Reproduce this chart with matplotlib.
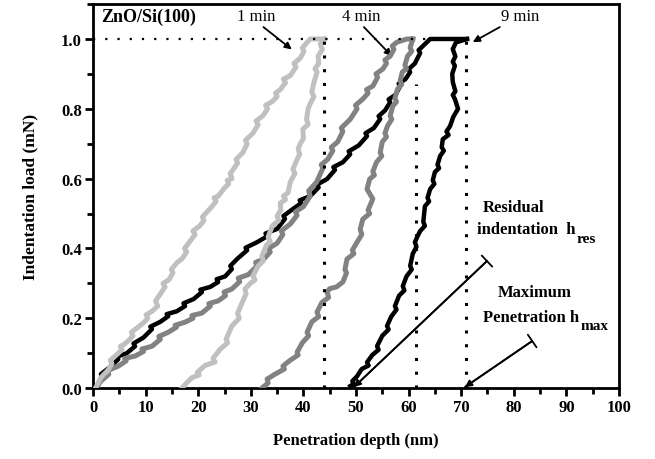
import matplotlib
matplotlib.use('Agg')
import matplotlib.pyplot as plt
from matplotlib.ticker import MultipleLocator, FormatStrFormatter

plt.rcParams['font.family'] = ['Liberation Serif', 'DejaVu Serif']

# 1 min film (light grey): (depth nm, load mN)
load1 = [(0.5, 0.0), (1.5, 0.03), (2.1, 0.04), (2.8, 0.05), (3.6, 0.07), (3.3, 0.08), (4.8, 0.10), (5.5, 0.11),
         (5.2, 0.12), (5.9, 0.125), (7.0, 0.14), (7.6, 0.15), (7.3, 0.16), (8.6, 0.175), (9.8, 0.19),
         (10.4, 0.20), (10.1, 0.21), (11.2, 0.22), (12.3, 0.235), (11.9, 0.25), (12.8, 0.27), (13.7, 0.29),
         (13.3, 0.30), (14.4, 0.31), (15.2, 0.33), (14.9, 0.34), (16.0, 0.36), (16.9, 0.37), (17.8, 0.39),
         (17.4, 0.40), (18.4, 0.42), (19.4, 0.44), (19.0, 0.45), (20.3, 0.465), (21.1, 0.48), (20.8, 0.49),
         (22.6, 0.52), (23.4, 0.535), (23.0, 0.545), (23.8, 0.55), (25.1, 0.575), (25.8, 0.585), (25.5, 0.595),
         (26.4, 0.60), (26.1, 0.615), (26.6, 0.625), (27.5, 0.645), (27.2, 0.655), (28.5, 0.675), (29.3, 0.70),
         (29.0, 0.71), (30.4, 0.73), (31.4, 0.755), (31.0, 0.765), (32.3, 0.78), (33.2, 0.80), (32.8, 0.81),
         (34.0, 0.82), (35.0, 0.835), (34.7, 0.845), (35.6, 0.855), (36.6, 0.875), (36.2, 0.885), (37.5, 0.895),
         (38.6, 0.92), (38.2, 0.93), (39.4, 0.945), (40.1, 0.965), (39.8, 0.975), (40.7, 0.99), (41.3, 1.0),
         (42.5, 1.0), (43.6, 1.0)]
unload1 = [(44.1, 1.0), (43.2, 0.985), (43.6, 0.97), (42.8, 0.951), (42.9, 0.93), (42.2, 0.915), (42.6, 0.905),
           (42.0, 0.875), (41.6, 0.848), (42.0, 0.835), (41.3, 0.815), (40.9, 0.80), (40.6, 0.77), (40.9, 0.755),
           (39.9, 0.742), (40.0, 0.715), (39.4, 0.70), (39.0, 0.685), (39.3, 0.67), (38.8, 0.655), (38.0, 0.627),
           (38.4, 0.615), (37.5, 0.59), (37.1, 0.56), (36.2, 0.55), (36.6, 0.54), (35.6, 0.53), (35.7, 0.51),
           (35.0, 0.493), (35.3, 0.48), (34.1, 0.465), (33.3, 0.433), (33.7, 0.42), (33.0, 0.41), (32.1, 0.378),
           (32.4, 0.365), (31.4, 0.35), (30.4, 0.321), (30.8, 0.31), (29.9, 0.30), (28.9, 0.284), (29.1, 0.27),
           (28.5, 0.25), (27.5, 0.215), (27.8, 0.20), (26.4, 0.178), (25.3, 0.14), (25.6, 0.13), (24.2, 0.112),
           (22.8, 0.085), (23.2, 0.075), (21.3, 0.065), (19.8, 0.045), (20.2, 0.038), (18.8, 0.03), (17.8, 0.015),
           (16.9, 0.0)]

# 4 min film (mid grey)
load4 = [(0.5, 0.0), (1.5, 0.02), (3.0, 0.04), (2.7, 0.05), (4.8, 0.063), (6.3, 0.078), (6.0, 0.085), (8.0, 0.092),
         (9.6, 0.105), (9.3, 0.112), (11.2, 0.12), (12.8, 0.14), (12.5, 0.148), (14.3, 0.16), (15.9, 0.175),
         (15.6, 0.18), (17.5, 0.189), (19.0, 0.20), (18.8, 0.208), (20.7, 0.215), (22.3, 0.235), (22.0, 0.242),
         (23.8, 0.25), (25.2, 0.265), (24.9, 0.275), (26.4, 0.284), (27.9, 0.305), (27.6, 0.315), (29.5, 0.325),
         (31.2, 0.35), (30.9, 0.36), (32.5, 0.37), (33.7, 0.39), (33.4, 0.40), (35.0, 0.415), (36.1, 0.44),
         (35.8, 0.45), (37.5, 0.47), (38.8, 0.495), (38.5, 0.505), (40.0, 0.52), (41.3, 0.55), (41.0, 0.565),
         (42.5, 0.59), (43.7, 0.63), (43.4, 0.64), (44.6, 0.655), (45.6, 0.68), (45.3, 0.69), (46.5, 0.705),
         (47.5, 0.735), (47.2, 0.745), (48.9, 0.77), (50.2, 0.80), (49.9, 0.81), (51.3, 0.828), (52.3, 0.845),
         (52.0, 0.855), (53.2, 0.865), (54.1, 0.89), (53.8, 0.90), (55.1, 0.914), (55.8, 0.93), (55.5, 0.94),
         (56.5, 0.951), (57.2, 0.97), (56.9, 0.98), (57.8, 0.991), (59.7, 1.0), (60.8, 1.0)]
unload4 = [(60.8, 1.0), (60.3, 0.975), (60.6, 0.965), (59.8, 0.951), (59.3, 0.925), (59.6, 0.915), (58.8, 0.905),
           (58.4, 0.88), (58.7, 0.87), (57.9, 0.857), (57.4, 0.83), (57.7, 0.82), (57.0, 0.808), (56.5, 0.78),
           (56.8, 0.77), (56.0, 0.751), (55.5, 0.73), (55.8, 0.72), (55.0, 0.705), (54.6, 0.675), (54.9, 0.665),
           (53.9, 0.647), (53.2, 0.62), (53.5, 0.61), (52.6, 0.599), (52.1, 0.57), (53.2, 0.542), (52.3, 0.51),
           (52.6, 0.50), (51.3, 0.484), (50.8, 0.455), (51.1, 0.44), (50.2, 0.418), (49.3, 0.395), (49.6, 0.385),
           (48.3, 0.37), (47.9, 0.34), (48.2, 0.33), (47.5, 0.304), (46.3, 0.29), (45.0, 0.285), (44.5, 0.275),
           (44.8, 0.26), (43.5, 0.245), (42.6, 0.218), (42.9, 0.205), (41.6, 0.19), (40.7, 0.16), (41.0, 0.15),
           (39.8, 0.13), (38.8, 0.103), (39.0, 0.095), (37.5, 0.08), (36.1, 0.063), (36.4, 0.055), (34.6, 0.04),
           (33.1, 0.026), (33.3, 0.015), (32.1, 0.0)]

# 9 min film (black)
load9 = [(0.8, 0.0), (1.2, 0.02), (2.0, 0.035), (1.5, 0.04), (3.2, 0.06), (4.8, 0.083), (4.5, 0.09), (6.4, 0.10),
         (8.0, 0.12), (7.7, 0.128), (9.6, 0.145), (11.2, 0.169), (10.9, 0.176), (12.8, 0.19), (14.3, 0.206),
         (14.0, 0.212), (15.9, 0.22), (17.5, 0.235), (17.2, 0.243), (19.1, 0.255), (20.7, 0.275), (20.4, 0.282),
         (22.3, 0.29), (23.8, 0.304), (23.5, 0.312), (25.1, 0.32), (26.4, 0.341), (26.1, 0.35), (27.4, 0.37),
         (29.3, 0.395), (29.0, 0.402), (31.2, 0.418), (33.1, 0.435), (32.8, 0.443), (35.0, 0.456), (36.5, 0.485),
         (36.2, 0.493), (38.0, 0.513), (39.6, 0.53), (39.3, 0.538), (41.3, 0.55), (42.9, 0.575), (42.6, 0.583),
         (44.5, 0.599), (46.0, 0.625), (45.7, 0.633), (47.5, 0.647), (48.9, 0.67), (48.6, 0.678), (50.5, 0.695),
         (52.1, 0.722), (51.8, 0.73), (53.4, 0.745), (54.6, 0.771), (54.3, 0.779), (55.5, 0.795), (56.5, 0.819),
         (56.2, 0.827), (57.5, 0.84), (58.4, 0.865), (58.1, 0.872), (59.4, 0.885), (60.3, 0.905), (60.0, 0.913),
         (61.2, 0.93), (62.2, 0.96), (61.9, 0.968), (63.5, 0.991), (64.1, 1.0), (67.5, 1.0), (71.1, 1.0)]
unload9 = [(71.1, 1.0), (69.0, 0.99), (68.4, 0.971), (68.9, 0.95), (68.4, 0.935), (68.8, 0.923), (68.3, 0.90),
           (68.4, 0.877), (68.9, 0.85), (68.4, 0.84), (68.8, 0.828), (69.4, 0.80), (68.5, 0.777), (67.9, 0.751),
           (67.2, 0.735), (67.6, 0.725), (66.5, 0.713), (66.3, 0.69), (66.7, 0.68), (66.0, 0.665), (65.5, 0.64),
           (65.8, 0.63), (65.0, 0.619), (64.6, 0.595), (64.9, 0.585), (64.1, 0.57), (63.6, 0.545), (63.9, 0.535),
           (63.1, 0.521), (62.8, 0.476), (63.1, 0.465), (62.2, 0.45), (61.7, 0.435), (61.2, 0.418), (61.5, 0.405),
           (60.8, 0.385), (60.3, 0.35), (60.6, 0.34), (59.6, 0.32), (58.9, 0.292), (59.2, 0.28), (58.2, 0.265),
           (57.4, 0.235), (57.7, 0.225), (56.7, 0.205), (55.9, 0.178), (56.2, 0.168), (55.0, 0.15), (54.0, 0.12),
           (54.3, 0.11), (53.1, 0.095), (52.1, 0.074), (52.4, 0.065), (51.1, 0.055), (50.2, 0.034), (49.3, 0.02),
           (49.6, 0.012), (48.9, 0.006)]

# dotted guide lines: depths and where they stop
guide_x = [44.0, 61.5, 71.0]
guide_top = [1.0, 0.87, 1.0]

fig = plt.figure(figsize=(6.55, 4.6), dpi=100)
ax = fig.add_axes([0.142, 0.154, 0.803, 0.835])

curves = [(load9, 'black', 3.2, 3), (unload9, 'black', 3.2, 3),
          (load4, '#828282', 3.6, 4), (unload4, '#828282', 3.6, 4),
          (load1, '#c0c0c0', 3.6, 5), (unload1, '#c0c0c0', 3.6, 5)]
for pts, col, lw, z in curves:
    xs, ys = zip(*pts)
    ax.plot(xs, ys, color=col, lw=lw, zorder=z, solid_joinstyle='round')

ax.plot([0, guide_x[2]], [1.0, 1.0], color='black', lw=1.6, ls=(0, (1, 4.5)), zorder=6)
for gx, gt in zip(guide_x, guide_top):
    ax.plot([gx, gx], [0, gt], color='black', lw=2.2, ls=(0, (1, 3.5)), zorder=6)

ax.set_xlim(0, 100)
ax.set_ylim(0, 1.1)
ax.xaxis.set_major_locator(MultipleLocator(10))
ax.xaxis.set_minor_locator(MultipleLocator(5))
ax.yaxis.set_major_locator(MultipleLocator(0.2))
ax.yaxis.set_minor_locator(MultipleLocator(0.1))
ax.yaxis.set_major_formatter(FormatStrFormatter('%.1f'))
ax.tick_params(which='major', direction='out', length=6, width=2, labelsize=12, pad=2)
ax.tick_params(which='minor', direction='out', length=4, width=2)
for lab in ax.get_xticklabels() + ax.get_yticklabels():
    lab.set_fontweight('bold')
for s in ax.spines.values():
    s.set_linewidth(2)

ax.set_xlabel('Penetration depth (nm)', fontsize=12, fontweight='bold', labelpad=12)
ax.set_ylabel('Indentation load (mN)', fontsize=12.5, fontweight='bold', labelpad=16)

ax.text(1.5, 1.064, 'ZnO/Si(100)', fontsize=13, fontweight='bold', va='center')

arr = dict(arrowstyle='-|>', color='black', lw=1.3, mutation_scale=10, shrinkA=0, shrinkB=0)
ax.annotate('1 min', xy=(37.8, 0.97), xytext=(31.0, 1.065), fontsize=12, ha='center', va='center',
            arrowprops=dict(arr, relpos=(0.6, 0)))
ax.annotate('4 min', xy=(56.8, 0.951), xytext=(51.0, 1.065), fontsize=12, ha='center', va='center',
            arrowprops=dict(arr, relpos=(0.5, 0)))
ax.annotate('9 min', xy=(72.2, 0.991), xytext=(81.2, 1.065), fontsize=12, ha='center', va='center',
            arrowprops=dict(arr, relpos=(0.1, 0)))

bar = dict(arrowstyle='|-|, widthA=0.55, widthB=0', color='black', lw=1.3, shrinkA=0, shrinkB=0)
ax.annotate('', xy=(49.6, 0.003), xytext=(74.9, 0.364), arrowprops=arr)
ax.annotate('', xy=(49.6, 0.003), xytext=(74.9, 0.364), arrowprops=bar)
ax.annotate('', xy=(70.7, 0.003), xytext=(83.5, 0.135), arrowprops=arr)
ax.annotate('', xy=(70.7, 0.003), xytext=(83.5, 0.135), arrowprops=bar)

ax.text(80.0, 0.52, 'Residual', fontsize=12, fontweight='bold', ha='center', va='center')
t1 = ax.text(73.0, 0.455, 'indentation  h', fontsize=12, fontweight='bold', va='center')
ax.annotate('res', xy=(1, 0), xycoords=t1, xytext=(0.5, -1), textcoords='offset points',
            fontsize=11, fontweight='bold', va='center')
ax.text(84.0, 0.275, 'Maximum', fontsize=12, fontweight='bold', ha='center', va='center')
t2 = ax.text(74.2, 0.205, 'Penetration h', fontsize=12, fontweight='bold', va='center')
ax.annotate('max', xy=(1, 0), xycoords=t2, xytext=(0.5, -1), textcoords='offset points',
            fontsize=11, fontweight='bold', va='center')

fig.savefig('out.png', dpi=100)
